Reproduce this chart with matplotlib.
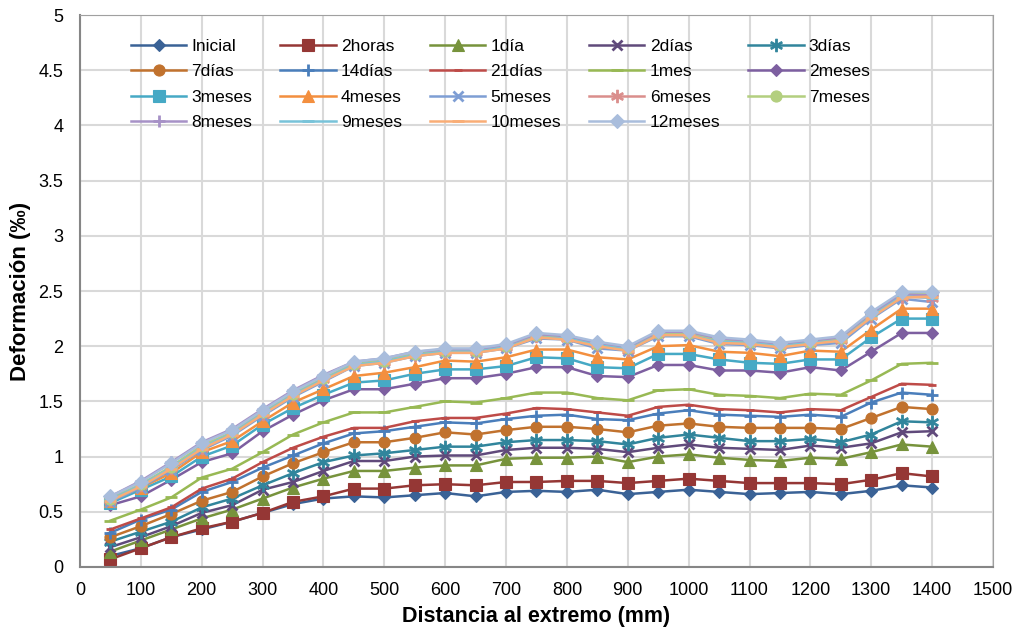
import matplotlib
matplotlib.use('Agg')
import matplotlib.pyplot as plt

plt.rcParams['font.family'] = ['Liberation Sans', 'DejaVu Sans']

# distance from the end (mm)
x = [50, 100, 150, 200, 250, 300, 350, 400, 450, 500, 550, 600, 650, 700,
     750, 800, 850, 900, 950, 1000, 1050, 1100, 1150, 1200, 1250, 1300, 1350, 1400]

inicial = [0.10, 0.17, 0.27, 0.34, 0.41, 0.49, 0.57, 0.62, 0.64, 0.63, 0.65, 0.67, 0.64, 0.68,
           0.69, 0.68, 0.70, 0.66, 0.68, 0.70, 0.68, 0.66, 0.67, 0.68, 0.66, 0.69, 0.74, 0.72]
horas2 = [0.07, 0.17, 0.27, 0.35, 0.41, 0.49, 0.59, 0.64, 0.71, 0.71, 0.74, 0.75, 0.74, 0.77,
          0.77, 0.78, 0.78, 0.76, 0.78, 0.80, 0.78, 0.76, 0.76, 0.76, 0.75, 0.79, 0.85, 0.82]
dia1 = [0.14, 0.24, 0.34, 0.44, 0.52, 0.62, 0.72, 0.80, 0.87, 0.87, 0.90, 0.92, 0.92, 0.98,
        0.99, 0.99, 1.00, 0.95, 1.00, 1.02, 0.99, 0.97, 0.96, 0.99, 0.98, 1.04, 1.11, 1.09]
dias2 = [0.18, 0.27, 0.37, 0.49, 0.56, 0.70, 0.77, 0.87, 0.96, 0.96, 1.00, 1.01, 1.01, 1.06,
         1.08, 1.08, 1.07, 1.04, 1.08, 1.11, 1.08, 1.07, 1.06, 1.10, 1.08, 1.12, 1.22, 1.23]
dias3 = [0.23, 0.32, 0.41, 0.54, 0.62, 0.74, 0.85, 0.95, 1.01, 1.03, 1.06, 1.09, 1.09, 1.13,
         1.15, 1.15, 1.14, 1.11, 1.17, 1.20, 1.17, 1.14, 1.14, 1.16, 1.13, 1.20, 1.32, 1.31]
dias7 = [0.27, 0.37, 0.48, 0.60, 0.68, 0.82, 0.94, 1.04, 1.13, 1.13, 1.17, 1.22, 1.20, 1.24,
         1.27, 1.27, 1.25, 1.22, 1.28, 1.30, 1.27, 1.26, 1.26, 1.26, 1.25, 1.35, 1.45, 1.43]
dias14 = [0.31, 0.43, 0.52, 0.68, 0.77, 0.90, 1.01, 1.12, 1.21, 1.23, 1.27, 1.31, 1.30, 1.34,
          1.37, 1.38, 1.34, 1.33, 1.39, 1.42, 1.38, 1.37, 1.36, 1.38, 1.36, 1.49, 1.58, 1.56]
dias21 = [0.34, 0.44, 0.54, 0.71, 0.80, 0.95, 1.08, 1.18, 1.26, 1.26, 1.32, 1.35, 1.35, 1.39,
          1.44, 1.43, 1.40, 1.37, 1.45, 1.47, 1.43, 1.42, 1.40, 1.43, 1.42, 1.54, 1.66, 1.65]
mes1 = [0.42, 0.52, 0.63, 0.81, 0.89, 1.04, 1.20, 1.31, 1.40, 1.40, 1.45, 1.50, 1.49, 1.53,
        1.58, 1.58, 1.53, 1.51, 1.60, 1.61, 1.56, 1.55, 1.53, 1.57, 1.56, 1.69, 1.84, 1.85]
meses2 = [0.56, 0.64, 0.79, 0.95, 1.03, 1.23, 1.38, 1.51, 1.61, 1.61, 1.66, 1.71, 1.71, 1.75,
          1.81, 1.81, 1.73, 1.72, 1.83, 1.83, 1.78, 1.78, 1.76, 1.81, 1.78, 1.95, 2.12, 2.12]
meses3 = [0.58, 0.70, 0.82, 1.00, 1.10, 1.29, 1.44, 1.56, 1.67, 1.69, 1.75, 1.79, 1.79, 1.82,
          1.90, 1.89, 1.81, 1.80, 1.93, 1.93, 1.88, 1.85, 1.84, 1.88, 1.88, 2.08, 2.25, 2.25]
meses4 = [0.60, 0.72, 0.85, 1.04, 1.14, 1.32, 1.49, 1.61, 1.73, 1.76, 1.81, 1.87, 1.86, 1.90,
          1.97, 1.97, 1.90, 1.88, 2.00, 2.01, 1.95, 1.94, 1.91, 1.96, 1.95, 2.15, 2.34, 2.34]
meses5 = [0.59, 0.72, 0.88, 1.06, 1.19, 1.37, 1.54, 1.68, 1.82, 1.85, 1.91, 1.94, 1.94, 1.98,
          2.07, 2.06, 1.98, 1.96, 2.09, 2.09, 2.02, 2.01, 1.98, 2.01, 2.03, 2.25, 2.43, 2.40]
meses6 = [0.61, 0.74, 0.90, 1.08, 1.21, 1.39, 1.56, 1.70, 1.83, 1.86, 1.92, 1.95, 1.95, 1.99,
          2.09, 2.07, 2.01, 1.97, 2.11, 2.11, 2.05, 2.03, 2.00, 2.03, 2.06, 2.27, 2.45, 2.44]
meses7 = [0.62, 0.75, 0.91, 1.10, 1.22, 1.40, 1.57, 1.71, 1.84, 1.87, 1.93, 1.96, 1.96, 2.00,
          2.10, 2.08, 2.02, 1.98, 2.12, 2.12, 2.06, 2.04, 2.01, 2.04, 2.07, 2.29, 2.47, 2.48]
meses8 = [0.64, 0.78, 0.95, 1.13, 1.25, 1.43, 1.60, 1.74, 1.86, 1.89, 1.95, 1.97, 1.97, 2.01,
          2.11, 2.09, 2.03, 1.99, 2.13, 2.13, 2.07, 2.05, 2.02, 2.05, 2.08, 2.30, 2.47, 2.46]
meses9 = [0.61, 0.74, 0.90, 1.08, 1.21, 1.39, 1.56, 1.70, 1.83, 1.86, 1.92, 1.95, 1.95, 1.99,
          2.08, 2.07, 2.01, 1.97, 2.10, 2.10, 2.04, 2.03, 2.00, 2.03, 2.05, 2.27, 2.45, 2.44]
meses10 = [0.60, 0.73, 0.89, 1.07, 1.20, 1.38, 1.55, 1.69, 1.82, 1.85, 1.91, 1.94, 1.94, 1.98,
           2.08, 2.06, 2.00, 1.96, 2.10, 2.10, 2.03, 2.02, 1.99, 2.02, 2.05, 2.26, 2.44, 2.45]
meses12 = [0.64, 0.77, 0.94, 1.12, 1.24, 1.42, 1.59, 1.73, 1.86, 1.89, 1.95, 1.98, 1.98, 2.02,
           2.12, 2.10, 2.04, 2.00, 2.14, 2.14, 2.08, 2.06, 2.03, 2.06, 2.09, 2.31, 2.49, 2.49]

names = ['Inicial', '2horas', '1día', '2días', '3días', '7días', '14días', '21días', '1mes',
         '2meses', '3meses', '4meses', '5meses', '6meses', '7meses', '8meses', '9meses',
         '10meses', '12meses']
series = [inicial, horas2, dia1, dias2, dias3, dias7, dias14, dias21, mes1, meses2, meses3,
          meses4, meses5, meses6, meses7, meses8, meses9, meses10, meses12]

colors = ['#3A6296', '#953735', '#77933C', '#604A7B', '#31859C', '#C1722E', '#4A7EBB',
          '#BE4B48', '#98B954', '#7D5FA0', '#46A9C5', '#F38F3F', '#7E9ED4', '#DA8E8C',
          '#B3CF7F', '#A691C6', '#78C3D9', '#F9AD76', '#A9BDDC']
markers = ['D', 's', '^', 'x', '$\u2217$', 'o', '+', '_', '_', 'D', 's', '^', 'x', '$\u2217$',
           'o', '+', '_', '_', 'D']
msizes = [6, 8, 8, 7, 9, 8, 8, 6, 8, 6, 8, 8, 7, 9, 8, 8, 8, 8, 7]

fig = plt.figure(figsize=(10.18, 6.34), dpi=100)
ax = fig.add_axes([0.0786, 0.1057, 0.8968, 0.8706])

handles = []
for i in range(len(series)):
    h, = ax.plot(x, series[i], color=colors[i], marker=markers[i], markersize=msizes[i],
                 markeredgewidth=2 if markers[i] in ('x', '+', '_') else 0.8,
                 markeredgecolor=colors[i], lw=1.8, label=names[i])
    handles.append(h)

ax.set_xlim(0, 1500)
ax.set_ylim(0, 5)
ax.set_xticks(range(0, 1501, 100))
ax.set_yticks([0, 0.5, 1, 1.5, 2, 2.5, 3, 3.5, 4, 4.5, 5])
ax.set_yticklabels(['0', '0.5', '1', '1.5', '2', '2.5', '3', '3.5', '4', '4.5', '5'])
ax.tick_params(axis='y', labelsize=13, length=0, pad=12)
ax.tick_params(axis='x', labelsize=13, length=0, pad=11)
ax.grid(True, color='#D9D9D9', lw=1.5)
ax.set_axisbelow(True)
for s in ['top', 'right']:
    ax.spines[s].set_color('#A0A0A0')
for s in ['left', 'bottom']:
    ax.spines[s].set_color('#868686')
    ax.spines[s].set_linewidth(1.5)

ax.set_xlabel('Distancia al extremo (mm)', fontsize=15.5, fontweight='bold', labelpad=5)
ax.set_ylabel('Deformación (‰)', fontsize=16, fontweight='bold', labelpad=5)

# legend filled row by row like the spreadsheet one
order = [0, 5, 10, 15, 1, 6, 11, 16, 2, 7, 12, 17, 3, 8, 13, 18, 4, 9, 14]
ax.legend([handles[k] for k in order], [names[k] for k in order], ncol=5, frameon=False,
          loc='upper left', bbox_to_anchor=(0.048, 0.97), fontsize=12.5, handlelength=3.2,
          handletextpad=0.3, columnspacing=1.6, labelspacing=0.6, borderaxespad=0)

fig.savefig('out.png', dpi=100)
